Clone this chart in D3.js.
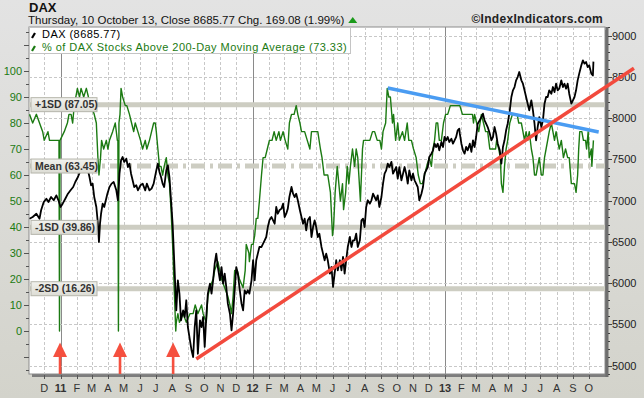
<!DOCTYPE html>
<html>
<head>
<meta charset="utf-8">
<script src="https://cdn.jsdelivr.net/npm/d3@7"></script>
<style>
  body { margin: 0; background: #fff; }
  svg { display: block; font-family: "Liberation Sans", Arial, sans-serif; }
</style>
</head>
<body>
<div id="chart"></div>
<script>
// DAX close (right axis)
const daxData = [
  ["2010-11-03",6782],["2010-11-09",6802],["2010-11-16",6842],["2010-11-22",6782],["2010-11-25",6884],["2010-11-30",6984],
  ["2010-12-05",7024],["2010-12-09",6984],["2010-12-14",7045],["2010-12-19",7005],["2010-12-24",7065],["2010-12-28",7005],
  ["2011-01-01",6924],["2011-01-05",6964],["2011-01-10",7024],["2011-01-15",7085],["2011-01-20",7126],["2011-01-25",7166],
  ["2011-01-29",7227],["2011-02-03",7287],["2011-02-08",7368],["2011-02-12",7408],["2011-02-17",7348],["2011-02-22",7368],
  ["2011-02-25",7287],["2011-02-28",7187],["2011-03-03",7207],["2011-03-06",7045],["2011-03-10",6924],["2011-03-13",6721],
  ["2011-03-15",6499],["2011-03-17",6721],["2011-03-19",6842],["2011-03-22",6964],["2011-03-25",6924],["2011-03-31",7085],
  ["2011-04-04",7166],["2011-04-08",7207],["2011-04-12",7227],["2011-04-17",7126],["2011-04-20",7005],["2011-04-23",7327],
  ["2011-04-26",7490],["2011-04-29",7530],["2011-05-02",7470],["2011-05-06",7510],["2011-05-09",7408],["2011-05-12",7449],
  ["2011-05-15",7327],["2011-05-18",7247],["2011-05-21",7166],["2011-05-25",7187],["2011-05-28",7126],["2011-06-02",7187],
  ["2011-06-06",7207],["2011-06-11",7126],["2011-06-14",7207],["2011-06-19",7126],["2011-06-23",7146],["2011-06-27",7207],
  ["2011-07-02",7368],["2011-07-05",7449],["2011-07-08",7348],["2011-07-11",7287],["2011-07-14",7207],["2011-07-17",7166],
  ["2011-07-21",7368],["2011-07-24",7429],["2011-07-27",7287],["2011-07-30",7005],["2011-08-02",6721],["2011-08-05",6278],
  ["2011-08-09",5671],["2011-08-12",6035],["2011-08-15",5873],["2011-08-18",5550],["2011-08-22",5671],["2011-08-25",5590],
  ["2011-08-28",5793],["2011-08-31",5469],["2011-09-04",5308],["2011-09-07",5187],["2011-09-10",5105],["2011-09-13",5469],
  ["2011-09-16",5671],["2011-09-19",5145],["2011-09-23",5550],["2011-09-26",5469],["2011-09-29",5590],["2011-10-02",5227],
  ["2011-10-05",5590],["2011-10-08",5873],["2011-10-12",5994],["2011-10-15",5873],["2011-10-18",6035],["2011-10-21",6236],
  ["2011-10-24",6358],["2011-10-27",6196],["2011-10-31",6035],["2011-11-03",6196],["2011-11-06",5994],["2011-11-09",6115],
  ["2011-11-12",5954],["2011-11-15",5752],["2011-11-19",5630],["2011-11-22",5429],["2011-11-25",5630],["2011-11-28",5914],
  ["2011-12-01",6196],["2011-12-04",6115],["2011-12-07",5954],["2011-12-11",5752],["2011-12-14",5671],["2011-12-17",5914],
  ["2011-12-20",5873],["2011-12-23",5914],["2011-12-26",5873],["2011-12-30",6035],["2012-01-02",6278],["2012-01-05",6035],
  ["2012-01-08",6278],["2012-01-11",6358],["2012-01-14",6439],["2012-01-18",6439],["2012-01-21",6479],["2012-01-24",6520],
  ["2012-01-27",6560],["2012-01-30",6681],["2012-02-02",6762],["2012-02-06",6802],["2012-02-09",6762],["2012-02-12",6721],
  ["2012-02-15",6924],["2012-02-18",6842],["2012-02-21",6884],["2012-02-25",6904],["2012-02-28",6964],["2012-03-02",6802],
  ["2012-03-05",6842],["2012-03-08",6904],["2012-03-11",7045],["2012-03-15",7166],["2012-03-18",7085],["2012-03-21",7045],
  ["2012-03-24",7085],["2012-03-27",7005],["2012-03-31",6884],["2012-04-03",6802],["2012-04-06",6721],["2012-04-09",6782],
  ["2012-04-12",6641],["2012-04-15",6762],["2012-04-19",6802],["2012-04-22",6560],["2012-04-25",6681],["2012-04-28",6762],
  ["2012-05-01",6681],["2012-05-04",6560],["2012-05-07",6600],["2012-05-11",6439],["2012-05-14",6358],["2012-05-17",6278],
  ["2012-05-20",6358],["2012-05-23",6278],["2012-05-27",6115],["2012-05-30",6196],["2012-06-02",5954],["2012-06-05",6115],
  ["2012-06-08",6278],["2012-06-11",6156],["2012-06-15",6278],["2012-06-18",6156],["2012-06-21",6318],["2012-06-24",6115],
  ["2012-06-27",6278],["2012-06-30",6439],["2012-07-04",6560],["2012-07-07",6439],["2012-07-10",6520],["2012-07-13",6520],
  ["2012-07-16",6600],["2012-07-19",6439],["2012-07-23",6520],["2012-07-26",6762],["2012-07-29",6782],["2012-08-01",6681],
  ["2012-08-04",6924],["2012-08-07",7005],["2012-08-11",6964],["2012-08-14",7005],["2012-08-17",7085],["2012-08-20",7045],
  ["2012-08-23",7005],["2012-08-26",7065],["2012-08-29",6924],["2012-09-02",7045],["2012-09-05",7207],["2012-09-08",7327],
  ["2012-09-11",7368],["2012-09-14",7449],["2012-09-17",7408],["2012-09-21",7470],["2012-09-24",7327],["2012-09-27",7368],
  ["2012-09-30",7408],["2012-10-03",7267],["2012-10-06",7408],["2012-10-10",7247],["2012-10-13",7327],["2012-10-16",7408],
  ["2012-10-19",7327],["2012-10-22",7207],["2012-10-25",7368],["2012-10-29",7247],["2012-11-01",7327],["2012-11-04",7247],
  ["2012-11-07",7207],["2012-11-10",7166],["2012-11-13",7005],["2012-11-17",7085],["2012-11-20",7166],["2012-11-23",7327],
  ["2012-11-26",7368],["2012-11-29",7408],["2012-12-02",7530],["2012-12-06",7570],["2012-12-09",7611],["2012-12-12",7691],
  ["2012-12-15",7651],["2012-12-18",7691],["2012-12-21",7611],["2012-12-25",7712],["2012-12-28",7651],["2012-12-31",7772],
  ["2013-01-03",7732],["2013-01-06",7772],["2013-01-09",7712],["2013-01-13",7752],["2013-01-16",7691],["2013-01-19",7732],
  ["2013-01-22",7772],["2013-01-25",7853],["2013-01-28",7873],["2013-01-29",7812],["2013-02-01",7691],["2013-02-04",7611],
  ["2013-02-07",7570],["2013-02-10",7651],["2013-02-13",7611],["2013-02-17",7691],["2013-02-20",7591],["2013-02-23",7732],
  ["2013-02-26",7651],["2013-03-01",7772],["2013-03-04",7933],["2013-03-08",7974],["2013-03-11",8014],["2013-03-14",8055],
  ["2013-03-17",7974],["2013-03-20",7933],["2013-03-23",7893],["2013-03-27",7813],["2013-03-30",7732],["2013-04-02",7772],
  ["2013-04-05",7893],["2013-04-08",7813],["2013-04-11",7691],["2013-04-15",7611],["2013-04-18",7449],["2013-04-21",7651],
  ["2013-04-24",7732],["2013-04-27",7853],["2013-04-30",7933],["2013-05-04",8095],["2013-05-07",8257],["2013-05-10",8338],
  ["2013-05-13",8378],["2013-05-16",8459],["2013-05-19",8499],["2013-05-22",8560],["2013-05-26",8459],["2013-05-29",8418],
  ["2013-06-01",8338],["2013-06-04",8257],["2013-06-07",8176],["2013-06-10",8095],["2013-06-14",8217],["2013-06-17",8095],
  ["2013-06-20",7933],["2013-06-23",7732],["2013-06-26",7893],["2013-06-29",8014],["2013-07-03",7893],["2013-07-06",7974],
  ["2013-07-09",8176],["2013-07-12",8257],["2013-07-15",8257],["2013-07-18",8338],["2013-07-22",8297],["2013-07-25",8378],
  ["2013-07-28",8317],["2013-07-31",8418],["2013-08-03",8338],["2013-08-06",8358],["2013-08-10",8459],["2013-08-13",8378],
  ["2013-08-16",8418],["2013-08-19",8358],["2013-08-22",8418],["2013-08-25",8297],["2013-08-29",8176],["2013-09-01",8217],
  ["2013-09-04",8257],["2013-09-07",8338],["2013-09-10",8459],["2013-09-13",8540],["2013-09-17",8641],["2013-09-20",8701],
  ["2013-09-23",8661],["2013-09-26",8681],["2013-09-29",8620],["2013-10-02",8641],["2013-10-06",8540],["2013-10-09",8517],
  ["2013-10-10",8685.77]
];

// % of DAX stocks above their 200-day moving average (left axis)
const breadthData = [
  ["2010-11-03",83.33],["2010-11-09",80],["2010-11-16",83.33],["2010-11-22",80],["2010-11-28",76.67],["2010-12-01",73.33],
  ["2010-12-08",76.67],["2010-12-11",73.33],["2010-12-20",73.33],["2010-12-27",73.33],["2010-12-29",73.33],["2010-12-30",0],
  ["2010-12-31",73.33],["2011-01-08",76.67],["2011-01-14",80],["2011-01-17",83.33],["2011-01-21",83.33],["2011-01-24",80],
  ["2011-01-27",86.67],["2011-02-02",93.33],["2011-02-06",90],["2011-02-09",93.33],["2011-02-14",90],["2011-02-19",93.33],
  ["2011-02-23",90],["2011-02-28",86.67],["2011-03-06",83.33],["2011-03-10",80],["2011-03-13",66.67],["2011-03-15",60],
  ["2011-03-18",66.67],["2011-03-20",73.33],["2011-03-24",70],["2011-03-29",73.33],["2011-04-01",70],["2011-04-04",73.33],
  ["2011-04-10",76.67],["2011-04-15",80],["2011-04-19",73.33],["2011-04-20",73.33],["2011-04-21",0],["2011-04-22",80],
  ["2011-04-24",83.33],["2011-04-26",93.33],["2011-04-29",90],["2011-05-04",86.67],["2011-05-07",86.67],["2011-05-12",83.33],
  ["2011-05-16",80],["2011-05-20",76.67],["2011-05-23",80],["2011-05-28",76.67],["2011-06-02",73.33],["2011-06-06",70],
  ["2011-06-11",73.33],["2011-06-14",70],["2011-06-19",73.33],["2011-06-23",76.67],["2011-06-27",80],["2011-06-30",80],
  ["2011-07-02",76.67],["2011-07-05",70],["2011-07-08",63.33],["2011-07-11",63.33],["2011-07-14",60],["2011-07-17",63.33],
  ["2011-07-21",66.67],["2011-07-24",60],["2011-07-27",56.67],["2011-07-30",46.67],["2011-08-02",33.33],["2011-08-05",16.67],
  ["2011-08-08",0],["2011-08-09",3.33],["2011-08-12",6.67],["2011-08-15",3.33],["2011-08-22",6.67],["2011-08-28",3.33],
  ["2011-09-04",6.67],["2011-09-10",6.67],["2011-09-14",10],["2011-09-19",6.67],["2011-09-26",10],["2011-09-29",6.67],
  ["2011-10-05",3.33],["2011-10-08",13.33],["2011-10-12",16.67],["2011-10-18",20],["2011-10-21",23.33],["2011-10-27",26.67],
  ["2011-11-03",20],["2011-11-09",16.67],["2011-11-15",13.33],["2011-11-19",10],["2011-11-22",6.67],["2011-11-25",13.33],
  ["2011-11-28",23.33],["2011-12-03",23.33],["2011-12-07",20],["2011-12-14",16.67],["2011-12-18",23.33],["2011-12-20",33.33],
  ["2011-12-25",30],["2011-12-26",26.67],["2011-12-30",33.33],["2012-01-02",33.33],["2012-01-05",36.67],["2012-01-08",43.33],
  ["2012-01-11",43.33],["2012-01-14",50],["2012-01-18",60],["2012-01-21",66.67],["2012-01-25",66.67],["2012-01-29",70],
  ["2012-02-02",73.33],["2012-02-07",73.33],["2012-02-11",76.67],["2012-02-15",73.33],["2012-02-20",76.67],["2012-02-23",73.33],
  ["2012-02-28",76.67],["2012-03-03",73.33],["2012-03-08",70],["2012-03-11",80],["2012-03-15",83.33],["2012-03-20",83.33],
  ["2012-03-24",86.67],["2012-03-27",83.33],["2012-03-31",80],["2012-04-03",76.67],["2012-04-09",76.67],["2012-04-14",73.33],
  ["2012-04-19",70],["2012-04-22",76.67],["2012-04-28",76.67],["2012-05-04",76.67],["2012-05-09",70],["2012-05-12",66.67],
  ["2012-05-16",60],["2012-05-23",60],["2012-05-28",53.33],["2012-06-01",36.67],["2012-06-03",40],["2012-06-06",53.33],
  ["2012-06-10",63.33],["2012-06-13",56.67],["2012-06-16",50],["2012-06-20",56.67],["2012-06-22",46.67],["2012-06-26",53.33],
  ["2012-06-29",63.33],["2012-07-02",56.67],["2012-07-05",63.33],["2012-07-09",70],["2012-07-13",63.33],["2012-07-16",70],
  ["2012-07-19",66.67],["2012-07-24",50],["2012-07-28",70],["2012-07-30",73.33],["2012-08-04",73.33],["2012-08-11",73.33],
  ["2012-08-16",76.67],["2012-08-20",76.67],["2012-08-25",73.33],["2012-08-30",73.33],["2012-09-02",70],["2012-09-05",76.67],
  ["2012-09-10",80],["2012-09-13",93.33],["2012-09-16",90],["2012-09-19",90],["2012-09-23",80],["2012-09-25",83.33],
  ["2012-09-29",73.33],["2012-10-03",80],["2012-10-06",73.33],["2012-10-12",76.67],["2012-10-16",73.33],["2012-10-21",80],
  ["2012-10-24",73.33],["2012-10-29",73.33],["2012-11-02",70],["2012-11-07",66.67],["2012-11-11",60],["2012-11-15",56.67],
  ["2012-11-19",56.67],["2012-11-23",60],["2012-11-27",63.33],["2012-12-02",66.67],["2012-12-06",63.33],["2012-12-09",70],
  ["2012-12-12",73.33],["2012-12-15",80],["2012-12-18",80],["2012-12-21",73.33],["2012-12-25",73.33],["2012-12-29",80],
  ["2013-01-02",83.33],["2013-01-06",83.33],["2013-01-11",86.67],["2013-01-16",86.67],["2013-01-22",86.67],["2013-01-27",86.67],
  ["2013-01-29",86.67],["2013-02-03",83.33],["2013-02-12",83.33],["2013-02-17",83.33],["2013-02-22",83.33],["2013-02-24",80],
  ["2013-02-26",83.33],["2013-03-02",80],["2013-03-06",76.67],["2013-03-11",83.33],["2013-03-15",80],["2013-03-19",76.67],
  ["2013-03-23",76.67],["2013-03-27",70],["2013-03-30",70],["2013-04-02",70],["2013-04-07",70],["2013-04-09",73.33],
  ["2013-04-13",70],["2013-04-16",66.67],["2013-04-18",56.67],["2013-04-21",53.33],["2013-04-24",63.33],["2013-04-27",70],
  ["2013-04-30",73.33],["2013-05-04",80],["2013-05-09",83.33],["2013-05-13",83.33],["2013-05-18",83.33],["2013-05-21",80],
  ["2013-05-26",80],["2013-05-29",76.67],["2013-06-01",73.33],["2013-06-04",76.67],["2013-06-07",73.33],["2013-06-10",76.67],
  ["2013-06-14",70],["2013-06-17",66.67],["2013-06-20",60],["2013-06-23",60],["2013-06-26",63.33],["2013-06-29",66.67],
  ["2013-07-03",60],["2013-07-06",60],["2013-07-09",66.67],["2013-07-12",70],["2013-07-15",73.33],["2013-07-18",76.67],
  ["2013-07-22",80],["2013-07-25",76.67],["2013-07-28",73.33],["2013-07-31",76.67],["2013-08-03",73.33],["2013-08-06",70],
  ["2013-08-10",73.33],["2013-08-14",66.67],["2013-08-18",70],["2013-08-22",66.67],["2013-08-25",66.67],["2013-08-29",56.67],
  ["2013-09-01",56.67],["2013-09-04",56.67],["2013-09-07",53.33],["2013-09-10",60],["2013-09-12",70],["2013-09-14",76.67],
  ["2013-09-18",76.67],["2013-09-21",73.33],["2013-09-25",73.33],["2013-09-27",70],["2013-09-30",76.67],["2013-10-02",66.67],
  ["2013-10-06",70],["2013-10-07",63.33],["2013-10-10",73.33]
];

// standard deviation bands of the breadth line
const bandNames = ["+1SD", "Mean", "-1SD", "-2SD"];
const bandValues = [87.05, 63.45, 39.86, 16.26];

// hand drawn annotations (DAX scale)
const redTrend = [["2011-09-16", 5081], ["2013-12-26", 8605]];
const blueTrend = [["2012-09-14", 8366], ["2013-10-20", 7833]];
const arrowDates = ["2010-12-31", "2011-04-24", "2011-08-03"];

const leftTicks = d3.range(0, 101, 10);
const rightTicks = d3.range(5000, 9001, 500);
const monthLetters = ["J","F","M","A","M","J","J","A","S","O","N","D"];

const titleText = "DAX";
const subtitleText = "Thursday, 10 October 13, Close 8685.77 Chg. 169.08 (1.99%)";
const legendNames = ["DAX (8685.77)", "% of DAX Stocks Above 200-Day Moving Average (73.33)"];
const creditText = "\u00A9IndexIndicators.com";

const W = 644, H = 398;
const plot = {left: 29, right: 605, top: 27, bottom: 374};
const green = "#1b7a12";

const parse = d3.utcParse("%Y-%m-%d");
const dax = daxData.map(d => ({date: parse(d[0]), value: d[1]}));
const breadth = breadthData.map(d => ({date: parse(d[0]), value: d[1]}));

const x = d3.scaleUtc()
    .domain([parse("2010-11-02"), parse("2013-11-01")])
    .range([plot.left, plot.right]);
const yR = d3.scaleLinear().domain([5000, 9000]).range([365.7, 35.7]);
const yL = d3.scaleLinear().domain([0, 100]).range([331, 71]);

const svg = d3.select("#chart").append("svg")
    .attr("width", W).attr("height", H);

const defs = svg.append("defs");
const bg = defs.append("linearGradient").attr("id", "bg").attr("x1", 0).attr("y1", 0).attr("x2", 0).attr("y2", 1);
bg.append("stop").attr("offset", "0%").attr("stop-color", "#e3e3e3");
bg.append("stop").attr("offset", "100%").attr("stop-color", "#d3d3cb");
const lab = defs.append("linearGradient").attr("id", "lab").attr("x1", 0).attr("y1", 0).attr("x2", 0).attr("y2", 1);
lab.append("stop").attr("offset", "0%").attr("stop-color", "#f2f2ee");
lab.append("stop").attr("offset", "100%").attr("stop-color", "#dcdcd4");
defs.append("clipPath").attr("id", "clip").append("rect")
    .attr("x", plot.left).attr("y", plot.top)
    .attr("width", plot.right - plot.left).attr("height", plot.bottom - plot.top);

svg.append("rect").attr("width", W).attr("height", H).attr("fill", "url(#bg)");

// plot frame with shadow
svg.append("rect")
    .attr("x", plot.left + 3).attr("y", plot.top + 3)
    .attr("width", plot.right - plot.left).attr("height", plot.bottom - plot.top)
    .attr("fill", "#7d7d7d");
svg.append("rect")
    .attr("x", plot.left).attr("y", plot.top)
    .attr("width", plot.right - plot.left).attr("height", plot.bottom - plot.top)
    .attr("fill", "#fff").attr("stroke", "#8c8c8c");

const months = d3.utcMonth.range(d3.utcMonth.ceil(x.domain()[0]), x.domain()[1]);

// grid
const grid = svg.append("g").attr("clip-path", "url(#clip)");
grid.selectAll(".vgrid").data(months).enter().append("line")
    .attr("x1", d => Math.round(x(d)) + 0.5).attr("x2", d => Math.round(x(d)) + 0.5)
    .attr("y1", plot.top).attr("y2", plot.bottom)
    .attr("stroke", d => d.getUTCMonth() === 0 ? "#8a8a8a" : "#c8c8c8")
    .attr("stroke-dasharray", d => d.getUTCMonth() === 0 ? null : "3,2");
grid.selectAll(".hgrid").data(rightTicks).enter().append("line")
    .attr("x1", plot.left).attr("x2", plot.right)
    .attr("y1", d => Math.round(yR(d)) + 0.5).attr("y2", d => Math.round(yR(d)) + 0.5)
    .attr("stroke", "#c8c8c8").attr("stroke-dasharray", "3,2");

// SD bands
grid.selectAll(".band").data(bandValues).enter().append("line")
    .attr("x1", plot.left).attr("x2", plot.right)
    .attr("y1", d => yL(d)).attr("y2", d => yL(d))
    .attr("stroke", "#cdcdc2").attr("stroke-width", 5)
    .attr("stroke-dasharray", (d, i) => bandNames[i] === "Mean" ? "14,5,3,5" : null);

// series
const lines = svg.append("g").attr("clip-path", "url(#clip)");
lines.append("path").datum(breadth)
    .attr("fill", "none").attr("stroke", green).attr("stroke-width", 1.4)
    .attr("stroke-linejoin", "round")
    .attr("d", d3.line().x(d => x(d.date)).y(d => yL(d.value)));
lines.append("path").datum(dax)
    .attr("fill", "none").attr("stroke", "#000").attr("stroke-width", 1.8)
    .attr("stroke-linejoin", "round")
    .attr("d", d3.line().x(d => x(d.date)).y(d => yR(d.value)));

// band labels
const bandLab = svg.selectAll(".bandlab").data(bandValues).enter().append("g")
    .attr("transform", d => "translate(31," + (yL(d) - 7) + ")");
bandLab.append("rect")
    .attr("width", 66).attr("height", 14)
    .attr("fill", "url(#lab)").attr("stroke", "#b5b5ab");
bandLab.append("text")
    .attr("x", 4).attr("y", 10.5)
    .attr("font-size", 10.5).attr("font-weight", "bold").attr("fill", "#333")
    .text((d, i) => bandNames[i] + " (" + d.toFixed(2) + ")");

// legend
svg.append("rect")
    .attr("x", plot.left + 0.5).attr("y", plot.top + 0.5)
    .attr("width", 321).attr("height", 26)
    .attr("fill", "#fff").attr("stroke", "#c4c4c4");
const legColors = ["#000", green];
legendNames.forEach((name, i) => {
  const ly = 38 + i * 13;
  svg.append("line")
      .attr("x1", 32).attr("y1", ly).attr("x2", 35).attr("y2", ly - 5)
      .attr("stroke", legColors[i]).attr("stroke-width", 2.2);
  svg.append("text")
      .attr("x", 42).attr("y", ly)
      .attr("font-size", 11).attr("letter-spacing", 0.45).attr("fill", legColors[i])
      .text(name);
});

// left axis
const leftAxis = svg.append("g").attr("transform", "translate(" + plot.left + ",0)");
leftAxis.selectAll(".mt").data(d3.range(-15, 116, 5)).enter().append("line")
    .attr("x1", d => d % 10 === 0 ? -5 : -3).attr("x2", 0)
    .attr("y1", d => Math.round(yL(d)) + 0.5).attr("y2", d => Math.round(yL(d)) + 0.5)
    .attr("stroke", "#555");
leftAxis.selectAll(".lt").data(leftTicks).enter().append("text")
    .attr("x", -7).attr("y", d => yL(d) + 4)
    .attr("text-anchor", "end").attr("font-size", 11).attr("fill", green)
    .text(d => d);

// right axis
const rightAxis = svg.append("g").attr("transform", "translate(" + (plot.right + 2) + ",0)");
rightAxis.append("line")
    .attr("x1", 0).attr("x2", 0).attr("y1", plot.top).attr("y2", plot.bottom + 3)
    .attr("stroke", "#6e6e6e").attr("stroke-width", 3);
rightAxis.selectAll(".mt").data(d3.range(4900, 9101, 100)).enter().append("line")
    .attr("x1", 1).attr("x2", d => d % 500 === 0 ? 5 : 3)
    .attr("y1", d => Math.round(yR(d)) + 0.5).attr("y2", d => Math.round(yR(d)) + 0.5)
    .attr("stroke", "#444");
rightAxis.selectAll(".rt").data(rightTicks).enter().append("text")
    .attr("x", 5).attr("y", d => yR(d) + 4)
    .attr("font-size", 11).attr("fill", "#222")
    .text(d => d);

// bottom axis
const bottomAxis = svg.append("g");
bottomAxis.selectAll(".xt").data(months).enter().append("line")
    .attr("x1", d => Math.round(x(d)) + 0.5).attr("x2", d => Math.round(x(d)) + 0.5)
    .attr("y1", plot.bottom + 1).attr("y2", plot.bottom + 5)
    .attr("stroke", "#555");
bottomAxis.selectAll(".xl").data(months).enter().append("text")
    .attr("x", d => x(d)).attr("y", 392)
    .attr("text-anchor", "middle").attr("font-size", 11).attr("fill", "#333")
    .attr("font-weight", d => d.getUTCMonth() === 0 ? "bold" : null)
    .text(d => d.getUTCMonth() === 0 ? d3.utcFormat("%y")(d) : monthLetters[d.getUTCMonth()]);

// trend lines
const trendLine = d3.line().x(d => x(parse(d[0]))).y(d => yR(d[1]));
svg.append("path").datum(blueTrend)
    .attr("fill", "none").attr("stroke", "#4a9cf2").attr("stroke-width", 3.5)
    .attr("d", trendLine);
svg.append("path").datum(redTrend)
    .attr("fill", "none").attr("stroke", "#f24a3d").attr("stroke-width", 3.5)
    .attr("d", trendLine);

// arrows
const arrows = svg.selectAll(".arrow").data(arrowDates).enter().append("g")
    .attr("transform", d => "translate(" + x(parse(d)) + ",0)");
arrows.append("rect")
    .attr("x", -1.3).attr("y", 355).attr("width", 2.6).attr("height", plot.bottom - 355)
    .attr("fill", "#f5503f");
arrows.append("path")
    .attr("d", "M0,342.5L7,357L-7,357Z")
    .attr("fill", "#f5503f");

// header
svg.append("text").attr("x", 29).attr("y", 12)
    .attr("font-size", 13).attr("font-weight", "bold").attr("fill", "#111")
    .text(titleText);
const sub = svg.append("text").attr("x", 28).attr("y", 23.5)
    .attr("font-size", 11.5).attr("fill", "#111")
    .text(subtitleText);
const subEnd = 28 + sub.node().getComputedTextLength();
svg.append("path")
    .attr("d", "M" + (subEnd + 4) + ",23L" + (subEnd + 13) + ",23L" + (subEnd + 8.5) + ",17Z")
    .attr("fill", "#1a9a1a");
svg.append("text").attr("x", 603).attr("y", 22.5)
    .attr("text-anchor", "end")
    .attr("font-size", 12).attr("font-weight", "bold").attr("fill", "#222")
    .attr("letter-spacing", 0.3)
    .text(creditText);
</script>
</body>
</html>
